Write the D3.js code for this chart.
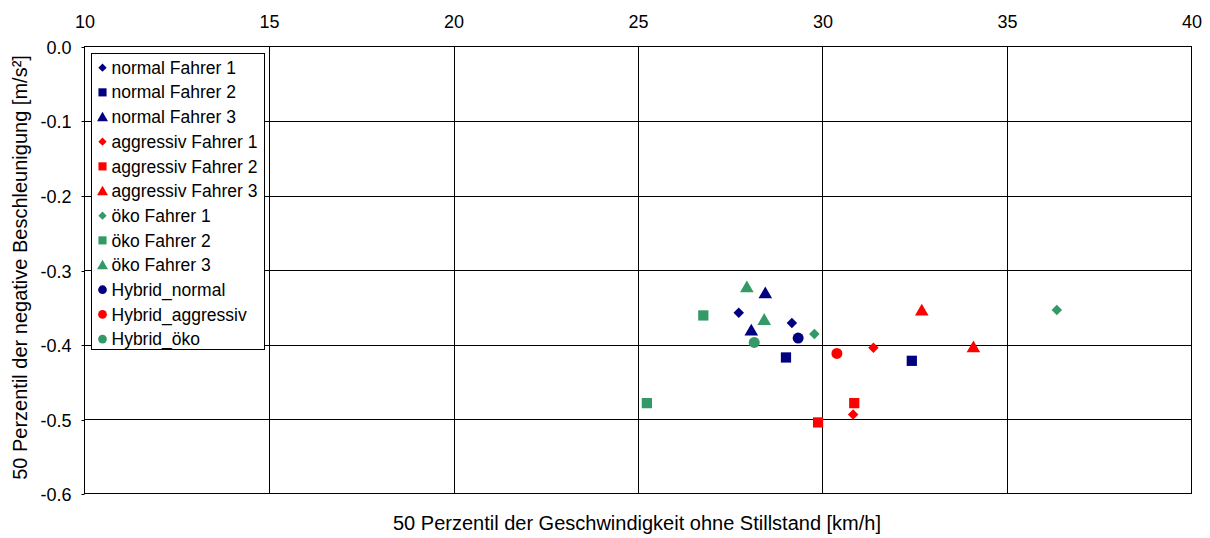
<!DOCTYPE html>
<html>
<head>
<meta charset="utf-8">
<script src="https://cdn.jsdelivr.net/npm/d3@7"></script>
<style>
  body { margin: 0; background: #fff; }
  svg text { font-family: "Liberation Sans", Arial, sans-serif; fill: #000; }
</style>
</head>
<body>
<svg id="chart" width="1210" height="538"></svg>
<script>
// Series: label, colour, marker shape, and [speed km/h, deceleration m/s²] points
const seriesNames = [
  "normal Fahrer 1", "normal Fahrer 2", "normal Fahrer 3",
  "aggressiv Fahrer 1", "aggressiv Fahrer 2", "aggressiv Fahrer 3",
  "öko Fahrer 1", "öko Fahrer 2", "öko Fahrer 3",
  "Hybrid_normal", "Hybrid_aggressiv", "Hybrid_öko"
];
const seriesColors = [
  "#000080", "#000080", "#000080",
  "#FF0000", "#FF0000", "#FF0000",
  "#339966", "#339966", "#339966",
  "#000080", "#FF0000", "#339966"
];
const seriesShapes = [
  "diamond", "square", "triangle",
  "diamond", "square", "triangle",
  "diamond", "square", "triangle",
  "circle", "circle", "circle"
];
const seriesPoints = [
  [[27.73, -0.3575], [29.17, -0.371]],
  [[29.01, -0.4174], [32.42, -0.4219]],
  [[28.45, -0.3306], [28.07, -0.3807]],
  [[31.38, -0.4045], [30.83, -0.4939]],
  [[30.86, -0.4787], [29.88, -0.5046]],
  [[32.69, -0.3538], [34.09, -0.4031]],
  [[29.78, -0.386], [36.35, -0.3538]],
  [[26.77, -0.361], [25.24, -0.4787]],
  [[27.95, -0.3226], [28.42, -0.3664]],
  [[29.34, -0.3914]],
  [[30.39, -0.412]],
  [[28.15, -0.3972]]
];
const xTicks = [10, 15, 20, 25, 30, 35, 40];
const yTicks = [0, -0.1, -0.2, -0.3, -0.4, -0.5, -0.6];
const xTitle = "50 Perzentil der Geschwindigkeit ohne Stillstand [km/h]";
const yTitle = "50 Perzentil der negative Beschleunigung [m/s²]";

const FONT = 17.5;
const TICK_FONT = 18;
const TITLE_FONT = 20;
const svg = d3.select("#chart");
const plot = { left: 84.5, top: 46.5, right: 1191.5, bottom: 493.5 };

const x = d3.scaleLinear().domain([10, 40]).range([plot.left, plot.right]);
const y = d3.scaleLinear().domain([0, -0.6]).range([plot.top, plot.bottom]);

// Grid lines
const grid = svg.append("g").attr("stroke", "#000").attr("stroke-width", 1);
xTicks.slice(1, -1).forEach(v => {
  grid.append("line").attr("x1", Math.round(x(v)) + 0.5).attr("x2", Math.round(x(v)) + 0.5)
    .attr("y1", plot.top).attr("y2", plot.bottom);
});
yTicks.slice(1, -1).forEach(v => {
  grid.append("line").attr("y1", Math.round(y(v)) + 0.5).attr("y2", Math.round(y(v)) + 0.5)
    .attr("x1", plot.left).attr("x2", plot.right);
});

// Plot frame
svg.append("rect")
  .attr("x", plot.left).attr("y", plot.top)
  .attr("width", plot.right - plot.left).attr("height", plot.bottom - plot.top)
  .attr("fill", "none").attr("stroke", "#000").attr("stroke-width", 1);

// Top axis labels (x)
const xAxis = d3.axisTop(x).tickValues(xTicks).tickSize(0).tickPadding(0)
  .tickFormat(d3.format("d"));
const gx = svg.append("g").attr("transform", `translate(0,${plot.top})`).call(xAxis);
gx.select(".domain").remove();
gx.selectAll("text").attr("font-size", TICK_FONT).attr("font-family", "Liberation Sans, Arial, sans-serif")
  .attr("fill", "#000").attr("dy", null).attr("y", -25).attr("dominant-baseline", "central");

// Left axis labels (y) with short outside ticks; plain hyphen as minus sign
const fmtY = d3.format(".1f");
const yAxis = d3.axisLeft(y).tickValues(yTicks).tickSize(3).tickPadding(10)
  .tickFormat(d => fmtY(d).replace("\u2212", "-"));
const gy = svg.append("g").attr("transform", `translate(${plot.left},0)`).call(yAxis);
gy.select(".domain").remove();
gy.selectAll("line").attr("stroke", "#000");
gy.selectAll("text").attr("font-size", TICK_FONT).attr("font-family", "Liberation Sans, Arial, sans-serif")
  .attr("fill", "#000").attr("dy", "0.35em");
gy.selectAll(".tick").each(function() {
  const t = d3.select(this);
  t.attr("transform", t.attr("transform").replace(/,([\d.]+)\)/, (m, v) => "," + (Math.round(+v) + 0.5) + ")"));
});

// Marker shapes
const symbolFor = {
  diamond: d3.symbol().type(d3.symbolDiamond2).size(70),
  square: d3.symbol().type(d3.symbolSquare).size(105),
  triangle: d3.symbol().type(d3.symbolTriangle).size(80),
  circle: d3.symbol().type(d3.symbolCircle).size(95)
};
const legendSymbolFor = {
  diamond: d3.symbol().type(d3.symbolDiamond2).size(44),
  square: d3.symbol().type(d3.symbolSquare).size(66),
  triangle: d3.symbol().type(d3.symbolTriangle).size(52),
  circle: d3.symbol().type(d3.symbolCircle).size(60)
};

// Data points
seriesNames.forEach((name, i) => {
  svg.append("g").selectAll("path")
    .data(seriesPoints[i])
    .join("path")
    .attr("d", symbolFor[seriesShapes[i]])
    .attr("transform", d => `translate(${x(d[0])},${y(d[1]) + (seriesShapes[i] === "triangle" ? 1.5 : 0)})`)
    .attr("fill", seriesColors[i]);
});

// Legend
const legend = svg.append("g");
legend.append("rect")
  .attr("x", 91.5).attr("y", 53.5).attr("width", 173).attr("height", 296)
  .attr("fill", "#fff").attr("stroke", "#000").attr("stroke-width", 1);
seriesNames.forEach((name, i) => {
  const cy = 67.7 + i * 24.67;
  legend.append("path")
    .attr("d", legendSymbolFor[seriesShapes[i]])
    .attr("transform", `translate(102.5,${cy + (seriesShapes[i] === "triangle" ? 1 : 0)})`)
    .attr("fill", seriesColors[i]);
  legend.append("text")
    .attr("x", 111.5).attr("y", cy).attr("dy", "0.35em")
    .attr("font-size", FONT).text(name);
});

// Axis titles
svg.append("text")
  .attr("x", 637).attr("y", 530)
  .attr("text-anchor", "middle")
  .attr("font-size", TITLE_FONT).text(xTitle);
svg.append("text")
  .attr("transform", `translate(20,267.5) rotate(-90)`)
  .attr("text-anchor", "middle").attr("dominant-baseline", "central")
  .attr("font-size", TITLE_FONT).text(yTitle);
</script>
</body>
</html>
